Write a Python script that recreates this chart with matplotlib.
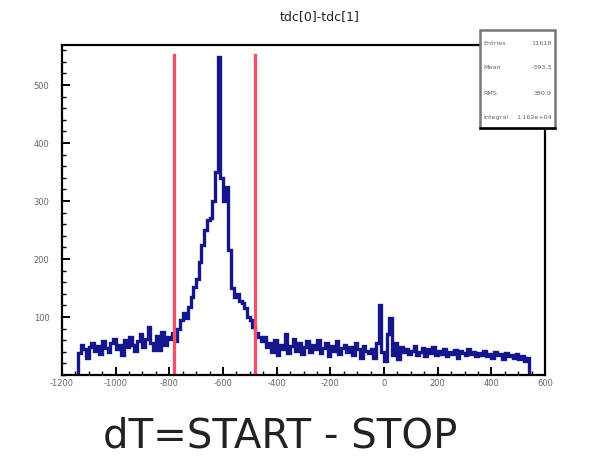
import matplotlib.pyplot as plt
import numpy as np
from matplotlib.patches import Rectangle
from matplotlib.ticker import MultipleLocator

# Histogram of tdc[0]-tdc[1], 10-unit bins starting at -1140
bin_lo = -1140
bin_width = 10
counts = [
    # -1140 .. -800
    38, 52, 45, 30, 48, 55, 42, 50, 36, 58, 47, 40, 55, 62, 44, 51, 35,
    60, 48, 66, 52, 41, 58, 70, 49, 62, 83, 55, 43, 68, 43, 75, 52, 66,
    # -800 .. -450
    62, 72, 58, 80, 95, 107, 98, 118, 135, 152, 165, 195, 225, 250, 267,
    270, 300, 350, 548, 340, 300, 324, 216, 150, 134, 140, 128, 124, 115,
    100, 95, 83, 72, 65, 58,
    # -450 .. -50
    65, 48, 55, 40, 60, 35, 52, 44, 70, 38, 50, 62, 42, 55, 36, 48, 58,
    40, 52, 45, 60, 38, 47, 55, 33, 50, 42, 58, 36, 46, 52, 40, 48, 35,
    55, 44, 30, 50, 42, 38,
    # -50 .. 80
    45, 30, 55, 121, 40, 25, 70, 98, 35, 55, 28, 48, 40,
    # 80 .. 540
    45, 36, 42, 50, 34, 40, 46, 32, 44, 38, 48, 35, 41, 37, 45, 33, 40,
    36, 43, 30, 42, 38, 34, 45, 36, 40, 32, 38, 35, 42, 33, 37, 30, 40,
    34, 36, 28, 38, 32, 35, 30, 36, 28, 33, 25, 30,
]
edges = bin_lo + bin_width * np.arange(len(counts) + 1)

# Time-window cuts
cut_lines = [-783, -481]

x_ticks = [-1200, -1000, -800, -600, -400, -200, 0, 200, 400, 600]
x_labels = ['-1200', '-1000', '-800', '-600', '-400', '-200', '0', '200', '400', '600']
y_ticks = [100, 200, 300, 400, 500]

stat_names = ['Entries', 'Mean', 'RMS', 'Integral']
stat_values = ['11618', '-393.3', '380.9', '1.162e+04']

fig = plt.figure(figsize=(6.07, 4.59), dpi=100)
ax = fig.add_axes([0.102, 0.183, 0.796, 0.719])

ax.stairs(counts, edges, baseline=0, color='#15168a', lw=2.4)
for xc in cut_lines:
    ax.axvline(xc, ymin=0, ymax=0.97, color='#f0506a', lw=2.4)

ax.set_xlim(-1200, 600)
ax.set_ylim(0, 569)

ax.set_xticks(x_ticks)
ax.set_xticklabels(x_labels)
ax.set_yticks(y_ticks)
ax.xaxis.set_minor_locator(MultipleLocator(50))
ax.yaxis.set_minor_locator(MultipleLocator(20))
ax.tick_params(which='major', direction='in', length=6, width=1.4,
               labelsize=6, labelcolor='#666666', pad=3)
ax.tick_params(axis='y', which='major', pad=9)
ax.tick_params(which='minor', direction='in', length=3, width=1.0)
ax.tick_params(top=False, right=False)
for side in ['left', 'bottom', 'top', 'right']:
    ax.spines[side].set_linewidth(1.6)

# Title and statistics box
fig.text(0.527, 0.965, 'tdc[0]-tdc[1]', ha='center', va='center',
         fontsize=9, color='#222222')

box = Rectangle((0.791, 0.721), 0.123, 0.214, transform=fig.transFigure,
                facecolor='white', edgecolor='#777777', lw=1.8, zorder=5)
fig.add_artist(box)
fig.add_artist(plt.Line2D([0.791, 0.914], [0.721, 0.721], transform=fig.transFigure,
                          color='black', lw=1.8, zorder=6))
row_y = [0.906, 0.854, 0.797, 0.743]
for name, val, yy in zip(stat_names, stat_values, row_y):
    fig.text(0.797, yy, name, ha='left', va='center', fontsize=4.6,
             color='#666666', zorder=7)
    fig.text(0.909, yy, val, ha='right', va='center', fontsize=4.6,
             color='#666666', zorder=7)

fig.text(0.461, 0.05, 'dT=START - STOP', ha='center', va='center',
         fontsize=29, color='#222222')

fig.savefig('out.png', dpi=100)
